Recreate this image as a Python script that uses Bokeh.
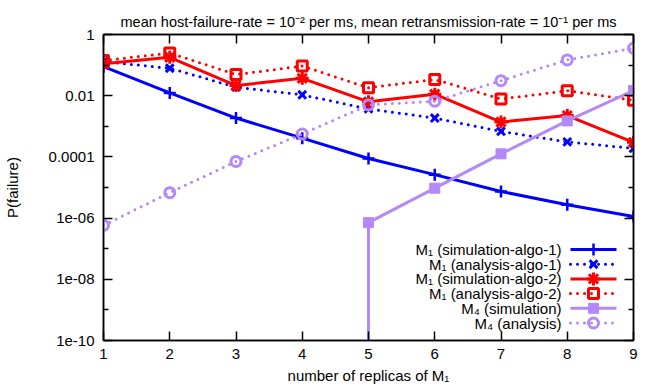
from bokeh.plotting import figure
from bokeh.models import (FixedTicker, LogAxis, LinearAxis, Range1d, LinearScale,
                          CustomJSTickFormatter)
from bokeh.core.properties import value
from bokeh.embed import file_html
from bokeh.resources import INLINE

# ---- data ----
replicas = [1, 2, 3, 4, 5, 6, 7, 8, 9]
m1_sim_algo1 = [0.089, 0.0123, 0.00186, 4.1e-4, 8.9e-5, 2.63e-5, 7.4e-6, 2.75e-6, 1.12e-6]
m1_ana_algo1 = [0.13, 0.079, 0.019, 0.0107, 0.0037, 0.00186, 6.8e-4, 3.1e-4, 1.9e-4]
m1_sim_algo2 = [0.11, 0.18, 0.0214, 0.037, 0.0063, 0.0112, 0.00138, 0.00224, 3.0e-4]
m1_ana_algo2 = [0.141, 0.25, 0.049, 0.093, 0.0182, 0.034, 0.0078, 0.0145, 0.0071]
m4_sim_x = [5, 5, 6, 7, 8, 9]
m4_sim = [1e-14, 7.1e-7, 9.5e-6, 1.26e-4, 1.5e-3, 0.0148]
m4_ana = [5.8e-7, 6.8e-6, 7.1e-5, 5.6e-4, 0.005, 0.0066, 0.031, 0.148, 0.355]

y_ticks = [1e-10, 1e-8, 1e-6, 1e-4, 1e-2, 1.0]
y_tick_labels = ["1e-10", "1e-08", "1e-06", "0.0001", "0.01", "1"]
y_minor = [1e-9, 1e-7, 1e-5, 1e-3, 1e-1]

series_labels = [
    "M\u2081 (simulation-algo-1)",
    "M\u2081 (analysis-algo-1)",
    "M\u2081 (simulation-algo-2)",
    "M\u2081 (analysis-algo-2)",
    "M\u2084 (simulation)",
    "M\u2084 (analysis)",
]
title_text = ("mean host-failure-rate = 10\u207b\u00b2 per ms, "
              "mean retransmission-rate = 10\u207b\u00b9 per ms")

FONT = "Liberation Sans"
FS = "15px"
BLUE = "#0000ff"
RED = "#ff0000"
PURP = "#b388f8"

p = figure(frame_width=530, frame_height=306, y_axis_type="log",
           x_range=Range1d(1, 9), y_range=Range1d(1e-10, 1),
           output_backend="svg", toolbar_location=None,
           min_border_left=101, min_border_right=9, min_border_top=34,
           min_border_bottom=42, title=title_text)

p.title.text_font = FONT
p.title.text_font_size = "14.5px"
p.title.text_font_style = "normal"
p.title.align = "center"
p.title.text_color = "black"
p.title.standoff = 9
p.grid.visible = False
p.outline_line_color = "black"
p.outline_line_width = 1.5
p.background_fill_color = "white"
p.border_fill_color = "white"

xt = FixedTicker(ticks=replicas, minor_ticks=[])
yt = FixedTicker(ticks=y_ticks, minor_ticks=y_minor)


def style_axis(ax):
    ax.axis_line_color = "black"
    ax.axis_line_width = 1.5
    ax.major_tick_in = 9
    ax.major_tick_out = 0
    ax.minor_tick_in = 5
    ax.minor_tick_out = 0
    ax.major_tick_line_width = 1.5
    ax.minor_tick_line_width = 1.5
    ax.major_label_text_font = FONT
    ax.major_label_text_font_size = FS
    ax.major_label_text_color = "black"
    ax.axis_label_text_font = FONT
    ax.axis_label_text_font_size = FS
    ax.axis_label_text_font_style = "normal"
    ax.axis_label_text_color = "black"


xa = p.xaxis[0]
xa.ticker = xt
style_axis(xa)
xa.major_label_standoff = 8
xa.axis_label = "number of replicas of M\u2081"
xa.axis_label_standoff = 5

ya = p.yaxis[0]
ya.ticker = yt
style_axis(ya)
ya.major_label_overrides = dict(zip(y_ticks, y_tick_labels))
ya.major_label_standoff = 9
ya.axis_label = "P(failure)"
ya.axis_label_standoff = 25

ra = LogAxis(ticker=yt, formatter=CustomJSTickFormatter(code="return ''"))
style_axis(ra)
ra.major_label_text_color = None
ra.major_label_standoff = 0
p.add_layout(ra, "right")

ta = LinearAxis(ticker=xt, formatter=CustomJSTickFormatter(code="return ''"))
style_axis(ta)
ta.major_label_text_color = None
ta.major_label_standoff = 0
p.add_layout(ta, "above")

DOT = "0 7"

# series
p.line(replicas, m1_sim_algo1, line_color=BLUE, line_width=3)
p.scatter(replicas, m1_sim_algo1, marker="cross", size=12, line_color=BLUE, line_width=2.5)

p.line(replicas, m1_ana_algo1, line_color=BLUE, line_width=3, line_dash=DOT, line_cap="round")
p.scatter(replicas, m1_ana_algo1, marker="x", size=11, line_color=BLUE, line_width=3)

p.line(replicas, m1_sim_algo2, line_color=RED, line_width=3)
p.scatter(replicas, m1_sim_algo2, marker="asterisk", size=13, line_color=RED, line_width=3)

p.line(replicas, m1_ana_algo2, line_color=RED, line_width=3, line_dash=DOT, line_cap="round")
p.scatter(replicas, m1_ana_algo2, marker="square", size=10, line_color=RED, line_width=3,
          fill_color=None)

p.line(m4_sim_x, m4_sim, line_color=PURP, line_width=3)
p.scatter(m4_sim_x, m4_sim, marker="square", size=10, line_color=PURP, fill_color=PURP)

p.line(replicas, m4_ana, line_color=PURP, line_width=3, line_dash=DOT, line_cap="round")
p.scatter(replicas, m4_ana, marker="circle", size=10, line_color=PURP, line_width=3,
          fill_color=None)

# ---- legend (gnuplot style: text right-aligned, sample on the right) ----
p.extra_x_ranges = {"lg": Range1d(0, 530)}
p.extra_y_ranges = {"lg": Range1d(0, 306)}
p.extra_x_scales = {"lg": LinearScale()}
p.extra_y_scales = {"lg": LinearScale()}

rows = [91, 76.3, 61.6, 46.9, 32.2, 17.5]
sx0, sx1, sxm, tx = 467, 513, 490, 458
styles = [
    (BLUE, None, "cross", dict(size=12, line_width=2.5)),
    (BLUE, DOT, "x", dict(size=11, line_width=3)),
    (RED, None, "asterisk", dict(size=13, line_width=3)),
    (RED, DOT, "square", dict(size=10, line_width=3, fill_color=None)),
    (PURP, None, "square", dict(size=10, fill_color=PURP)),
    (PURP, DOT, "circle", dict(size=10, line_width=3, fill_color=None)),
]
for yy, (col, dash, mk, kw) in zip(rows, styles):
    lkw = dict(line_color=col, line_width=3, x_range_name="lg", y_range_name="lg")
    if dash:
        lkw.update(line_dash=dash, line_cap="round")
    p.line([sx0, sx1], [yy, yy], **lkw)
    p.scatter([sxm], [yy], marker=mk, line_color=col, x_range_name="lg",
              y_range_name="lg", **kw)

p.text(x=[tx] * len(rows), y=rows, text=series_labels, text_align="right",
       text_baseline="middle", text_font=value(FONT), text_font_size=FS,
       text_color="black", x_range_name="lg", y_range_name="lg")

open("out.html", "w").write(file_html(p, INLINE))
